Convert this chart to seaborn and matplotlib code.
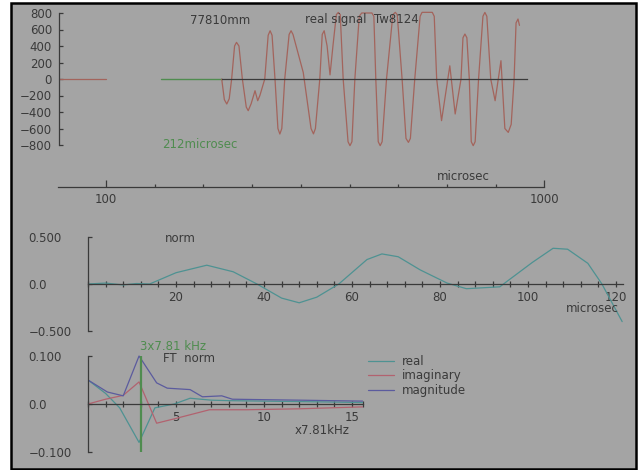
import numpy as np
import pandas as pd
import seaborn as sns
import matplotlib as mp
import matplotlib.pyplot as plt
from matplotlib.ticker import MultipleLocator, FixedLocator

# ---------------------------------------------------------------------------
# Data
# ---------------------------------------------------------------------------

# top panel: real signal, time in microsec
lead_t = [3, 100]
lead_v = [0, 0]
gate_t = [212, 338]
gate_v = [0, 0]
signal_t = [337.6, 343, 348, 353, 358, 364, 368, 373, 380, 388, 392, 398, 406,
            411.5, 416, 426, 433, 437, 441, 447, 453, 457, 461, 467, 476, 480,
            484, 505, 521, 526, 530, 539, 544, 548, 554, 560, 566, 573, 577,
            581, 587, 597, 601, 605, 611, 620, 625, 646, 650, 654, 659, 663,
            667, 676, 689, 694, 698, 708, 716, 721, 725, 734, 745, 749, 770,
            774, 779, 789, 806, 817, 829, 833, 837, 841, 846, 850, 854, 858,
            865, 874, 878, 882, 890, 899, 911, 919, 926, 932, 938, 942, 946,
            949]
signal_v = [0, -250, -303, -240, 0, 400, 444, 400, 0, -340, -384, -300, -142,
            -263, -200, 0, 530, 585, 530, 0, -600, -667, -600, 0, 540, 585,
            540, 80, -600, -665, -600, 0, 540, 585, 400, 50, 400, 780, 807,
            780, 0, -760, -808, -760, 0, 760, 800, 800, 760, 0, -760, -808,
            -760, 0, 780, 808, 780, 0, -720, -768, -720, 0, 760, 808, 808,
            760, 0, -505, 160, -424, 0, 500, 545, 500, 0, -760, -808, -760,
            0, 760, 807, 760, 0, -263, 222, -600, -647, -550, 0, 680, 727,
            650]
signal_ticks = [-800, -600, -400, -200, 0, 200, 400, 600, 800]
time_major = [100, 1000]
time_minor = [200, 300, 400, 500, 600, 700, 800, 900]

# middle panel: normalised window
norm_t = [0, 4, 8, 11, 14, 20, 27, 33, 38.4, 44, 48, 52, 57, 63.4, 66.8, 70.5,
          75.5, 81.6, 86, 93.6, 95, 101, 105.7, 109, 113.6, 116.8, 121.4]
norm_v = [0.0, 0.01, -0.01, 0.005, 0.0, 0.12, 0.2, 0.13, 0.0, -0.15, -0.2, -0.14,
          0.0, 0.26, 0.32, 0.29, 0.15, 0.01, -0.05, -0.03, 0.02, 0.23, 0.38, 0.37,
          0.22, 0.0, -0.4]
norm_ticks = [-0.5, 0.0, 0.5]
norm_labels = ['\u22120.500', '0.0', '0.500']

# bottom panel: FT of norm, index in units of 7.81 kHz
real_t = [0, 1.0, 1.8, 2.9, 3.8, 4.9, 5.8, 7, 8, 10, 12, 14, 15.6]
real_v = [0.05, 0.022, -0.008, -0.08, -0.008, 0.0, 0.012, 0.008, 0.007, 0.006,
          0.005, 0.004, 0.003]
imag_t = [0, 1, 2, 2.9, 3.9, 5, 6.9, 9, 12, 15.6]
imag_v = [0.0, 0.01, 0.018, 0.046, -0.04, -0.03, -0.012, -0.012, -0.01, -0.006]
magn_t = [0, 1.1, 2, 2.9, 3.9, 4.5, 5.8, 6.5, 7.6, 8.2, 10, 12, 15.6]
magn_v = [0.05, 0.025, 0.017, 0.1, 0.044, 0.033, 0.03, 0.015, 0.017, 0.01,
          0.009, 0.008, 0.006]
ft_ticks = [-0.1, 0.0, 0.1]
ft_labels = ['\u22120.100', '0.0', '0.100']
marker_index = 3

#------------------------------------------------------------------------------
# Visualization
#------------------------------------------------------------------------------

sns.set_style('white')
mp.rcParams['font.family'] = ['DejaVu Sans']

W, H = 639, 470
bg = '#a4a4a4'
ink = '#3a3a3a'
fs = 8.5

c_sig = '#a3645c'
c_green = '#4f8c4f'
c_real = '#4e9292'
c_imag = '#b2626f'
c_magn = '#5b5b9e'


def px_rect(left, top, width, height):
    return [left / W, 1 - (top + height) / H, width / W, height / H]


def fig_text(x, y, s, color=ink):
    fig.text(x / W, 1 - y / H, s, fontsize=fs, color=color, va='center')


def style_axes(ax):
    ax.set_facecolor('none')
    for side in ['top', 'right', 'left', 'bottom']:
        ax.spines[side].set_color(ink)
        ax.spines[side].set_linewidth(0.9)
    ax.spines['top'].set_visible(False)
    ax.spines['right'].set_visible(False)
    ax.tick_params(which='both', bottom=True, left=True, colors=ink,
                   labelcolor=ink, labelsize=fs, width=0.9)
    ax.set_xlabel('')
    ax.set_ylabel('')


fig = plt.figure(figsize=(W / 100, H / 100), dpi=100, facecolor='white')
frame = mp.patches.Rectangle((11 / W, 1 - 469 / H), 625 / W, 466 / H,
                             transform=fig.transFigure, facecolor=bg,
                             edgecolor='black', linewidth=1.8, zorder=-5)
fig.patches.append(frame)

# Top panel - real signal
ax1 = fig.add_axes(px_rect(57.3, 4.75, 487, 148.5))
sns.lineplot(x=lead_t, y=lead_v, ax=ax1, color=c_sig, lw=0.9, sort=False)
sns.lineplot(x=gate_t, y=gate_v, ax=ax1, color=c_green, lw=1.0, sort=False)
sns.lineplot(x=signal_t, y=signal_v, ax=ax1, color=c_sig, lw=0.9, sort=False)
ax1.set_xlim(0, 1000)
ax1.set_ylim(-900, 900)
style_axes(ax1)
ax1.spines['left'].set_position(('data', 3.5))
ax1.spines['left'].set_bounds(-800, 800)
ax1.spines['bottom'].set_position(('data', 0))
ax1.spines['bottom'].set_bounds(338, 965)
ax1.set_xticks([])
ax1.set_yticks(signal_ticks)
ax1.set_yticklabels([str(v).replace('-', '\u2212') for v in signal_ticks])
ax1.tick_params(axis='y', direction='in', length=3, pad=5)

# Time axis under the top panel
axt = fig.add_axes(px_rect(57.3, 150, 487, 37))
axt.set_xlim(0, 1000)
style_axes(axt)
axt.spines['left'].set_visible(False)
axt.spines['bottom'].set_bounds(1.5, 1000)
axt.set_yticks([])
axt.xaxis.set_major_locator(FixedLocator(time_major))
axt.xaxis.set_minor_locator(FixedLocator(time_minor))
axt.set_xticklabels([str(v) for v in time_major])
axt.tick_params(axis='x', which='major', direction='in', length=5, pad=4)
axt.tick_params(axis='x', which='minor', direction='in', length=2.5)

# Middle panel - norm
ax2 = fig.add_axes(px_rect(88, 232.3, 536.8, 103.4))
sns.lineplot(x=norm_t, y=norm_v, ax=ax2, color=c_real, lw=0.9, sort=False)
ax2.set_xlim(0, 122)
ax2.set_ylim(-0.55, 0.55)
style_axes(ax2)
ax2.spines['left'].set_bounds(-0.5, 0.5)
ax2.spines['bottom'].set_position(('data', 0))
ax2.spines['bottom'].set_bounds(0, 121.6)
ax2.xaxis.set_major_locator(FixedLocator([20, 40, 60, 80, 100, 120]))
ax2.xaxis.set_minor_locator(MultipleLocator(4))
ax2.tick_params(axis='x', which='both', direction='inout', length=4, pad=3)
ax2.set_yticks(norm_ticks)
ax2.set_yticklabels(norm_labels, ha='left')
ax2.tick_params(axis='y', direction='in', length=3, pad=43)

# Bottom panel - FT norm
ax3 = fig.add_axes(px_rect(88, 351.2, 274.6, 105.6))
sns.lineplot(x=real_t, y=real_v, ax=ax3, color=c_real, lw=0.9, sort=False,
             label='real')
sns.lineplot(x=imag_t, y=imag_v, ax=ax3, color=c_imag, lw=0.9, sort=False,
             label='imaginary')
sns.lineplot(x=magn_t, y=magn_v, ax=ax3, color=c_magn, lw=0.9, sort=False,
             label='magnitude')
ax3.vlines(marker_index, -0.1, 0.1, color=c_green, lw=1.6)
ax3.set_xlim(0, 15.6)
ax3.set_ylim(-0.11, 0.11)
style_axes(ax3)
ax3.spines['left'].set_bounds(-0.1, 0.1)
ax3.spines['bottom'].set_position(('data', 0))
ax3.spines['bottom'].set_bounds(0, 15.6)
ax3.xaxis.set_major_locator(FixedLocator([5, 10, 15, 15.6]))
ax3.set_xticklabels(['5', '10', '15', ''])
ax3.xaxis.set_minor_locator(MultipleLocator(1))
ax3.tick_params(axis='x', which='both', direction='inout', length=4, pad=3)
ax3.set_yticks(ft_ticks)
ax3.set_yticklabels(ft_labels, ha='left')
ax3.tick_params(axis='y', direction='in', length=3, pad=43)
leg = ax3.legend(loc='upper left', bbox_to_anchor=(368 / W, 1 - 355 / H),
                 bbox_transform=fig.transFigure, frameon=False, fontsize=fs,
                 handlelength=2.2, handletextpad=0.7, labelspacing=0.12,
                 borderaxespad=0, borderpad=0)
for t in leg.get_texts():
    t.set_color(ink)

# Annotations
fig_text(190, 20, '77810mm')
fig_text(305, 20, 'real signal  Tw8124')
fig_text(162, 145, '212microsec', color=c_green)
fig_text(437, 177, 'microsec')
fig_text(165, 239, 'norm')
fig_text(566, 308, 'microsec')
fig_text(140, 347, '3x7.81 kHz', color=c_green)
fig_text(163, 358, 'FT  norm')
fig_text(295, 430, 'x7.81kHz')

fig.savefig('out.png', dpi=100, facecolor='white')
